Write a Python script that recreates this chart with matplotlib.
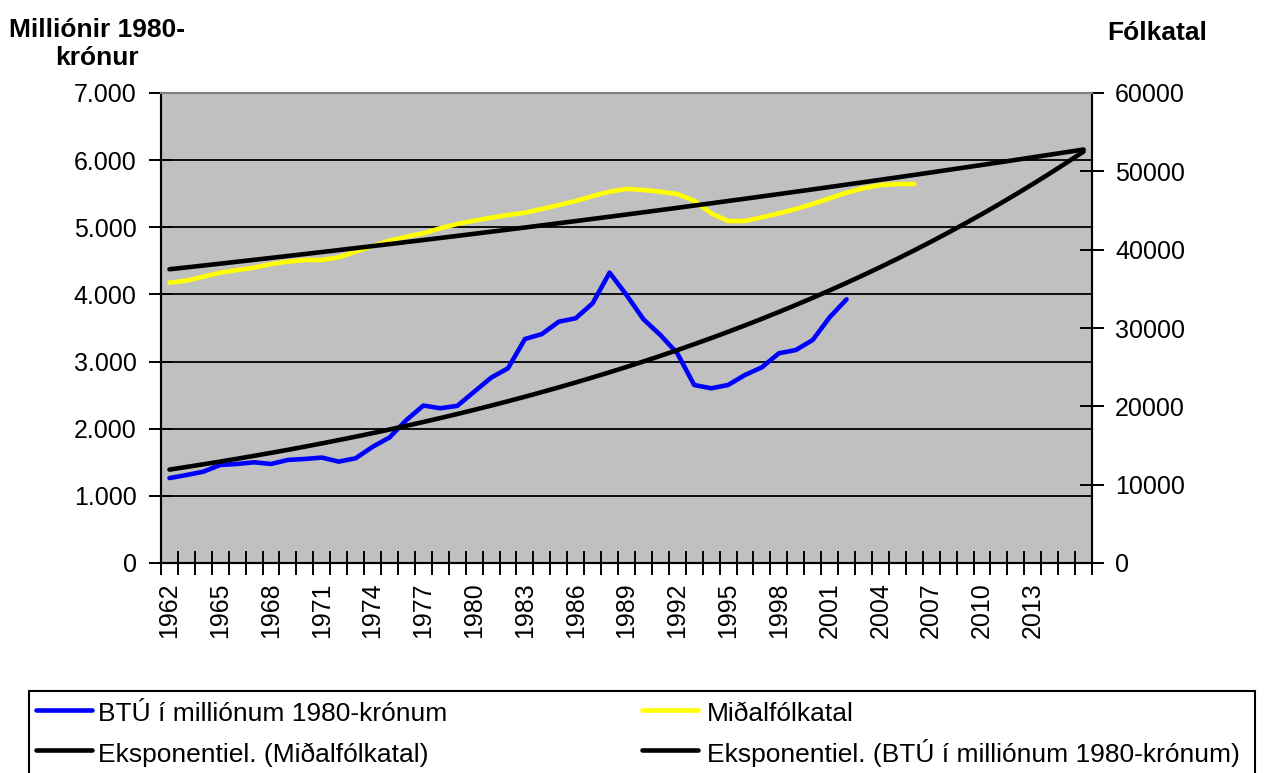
import numpy as np
import matplotlib
matplotlib.use("Agg")
import matplotlib.pyplot as plt
from matplotlib.lines import Line2D
from matplotlib.patches import Rectangle
from matplotlib.ticker import FixedLocator, FuncFormatter

plt.rcParams['font.family'] = ['Liberation Sans', 'DejaVu Sans']

years = list(range(1962, 2017))
btu = [1265, 1310, 1360, 1460, 1475, 1500, 1475, 1535, 1550, 1570,
       1510, 1560, 1730, 1870, 2130, 2345, 2305, 2340, 2550, 2760,
       2900, 3336, 3410, 3594, 3645, 3868, 4324, 3992, 3630, 3396,
       3123, 2651, 2602, 2651, 2800, 2915, 3123, 3172, 3321, 3659,
       3927]
folk = [35790, 36040, 36550, 37060, 37400, 37700, 38170, 38470, 38680, 38680,
        39020, 39740, 40470, 41150, 41660, 42090, 42730, 43280, 43700, 44080,
        44430, 44720, 45200, 45700, 46210, 46850, 47400, 47750, 47620, 47400,
        47110, 46250, 44640, 43660, 43660, 44130, 44640, 45190, 45830, 46560,
        47270, 47840, 48250, 48380, 48380]
tick_years = list(range(1962, 2014, 3))
left_ticks = [0, 1000, 2000, 3000, 4000, 5000, 6000, 7000]
right_ticks = [0, 10000, 20000, 30000, 40000, 50000, 60000]

lbl_btu = "BTÚ í milliónum 1980-krónum"
lbl_folk = "Miðalfólkatal"
lbl_exp_folk = "Eksponentiel. (Miðalfólkatal)"
lbl_exp_btu = "Eksponentiel. (BTÚ í milliónum 1980-krónum)"

n = len(years)
idx = np.arange(n)

# exponential trendlines fitted like Excel, extended to the last category
def exp_trend(vals):
    x = np.arange(len(vals))
    b, a = np.polyfit(x, np.log(vals), 1)
    return np.exp(a + b * idx)

W, H = 1265, 773
fs = 18
lw = 3.3
fig = plt.figure(figsize=(W / 100, H / 100), dpi=100)
ax = fig.add_axes([161 / W, 1 - 563 / H, (1092 - 161) / W, (563 - 93) / H])
ax.set_facecolor('#C0C0C0')
ax2 = ax.twinx()

for v in left_ticks[1:-1]:
    ax.axhline(v, color='black', lw=1.3, zorder=1)

l_btu, = ax.plot(idx[:len(btu)], btu, color='#0000FF', lw=lw, zorder=3,
                 solid_joinstyle='round', solid_capstyle='round')
l_exp_btu, = ax.plot(idx, exp_trend(btu), color='black', lw=lw, zorder=4,
                     solid_capstyle='round')
l_folk, = ax2.plot(idx[:len(folk)], folk, color='#FFFF00', lw=lw, zorder=3,
                   solid_joinstyle='round', solid_capstyle='round')
l_exp_folk, = ax2.plot(idx, exp_trend(folk), color='black', lw=lw, zorder=4,
                       solid_capstyle='round')

ax.set_xlim(-0.5, n - 0.5)
ax.set_ylim(0, 7000)
ax2.set_ylim(0, 60000)

ax.set_yticks(left_ticks)
ax.yaxis.set_major_formatter(FuncFormatter(lambda v, p: "{:,.0f}".format(v).replace(",", ".")))
ax2.set_yticks(right_ticks)
ax2.set_yticklabels([str(v) for v in right_ticks])

ax.xaxis.set_major_locator(FixedLocator(np.arange(n + 1) - 0.5))
ax.xaxis.set_major_formatter(FuncFormatter(lambda v, p: ""))
ax.xaxis.set_minor_locator(FixedLocator([years.index(y) for y in tick_years]))
ax.set_xticklabels([str(y) for y in tick_years], minor=True, rotation=90)

ax.tick_params(axis='x', which='major', direction='inout', length=17, width=1.4)
ax.tick_params(axis='x', which='minor', length=0, pad=14, labelsize=fs)
ax.tick_params(axis='y', direction='inout', length=17, width=1.4, pad=9, labelsize=fs)
ax2.tick_params(axis='y', direction='inout', length=17, width=1.4, pad=8, labelsize=fs)

for a in (ax, ax2):
    for s in ('left', 'right', 'bottom'):
        a.spines[s].set_linewidth(1.5)
        a.spines[s].set_color('black')
    a.spines['top'].set_color('#808080')
    a.spines['top'].set_linewidth(1.5)

fig.text(97 / W, 1 - 30 / H, "Milliónir 1980-", ha='center', va='center',
         fontsize=19, fontweight='bold')
fig.text(97 / W, 1 - 58 / H, "krónur", ha='center', va='center',
         fontsize=19, fontweight='bold')
fig.text(1157 / W, 1 - 33 / H, "Fólkatal", ha='center', va='center',
         fontsize=19, fontweight='bold')

# legend box, laid out by hand (frame runs past the bottom edge)
fig.add_artist(Rectangle((29 / W, -0.05), (1255 - 29) / W, 0.05 + 1 - 691 / H,
                         transform=fig.transFigure, facecolor='white',
                         edgecolor='black', lw=1.5, zorder=5))
entries = [(l_btu, lbl_btu, 36, 710, 721), (l_exp_folk, lbl_exp_folk, 36, 750, 762),
           (l_folk, lbl_folk, 642, 710, 721), (l_exp_btu, lbl_exp_btu, 642, 750, 762)]
for line, label, x0, yl, yb in entries:
    fig.add_artist(Line2D([x0 / W, (x0 + 56) / W], [1 - yl / H, 1 - yl / H],
                          transform=fig.transFigure, color=line.get_color(),
                          lw=lw, solid_capstyle='round', zorder=6))
    fig.text((x0 + 62 if x0 < 100 else x0 + 65) / W, 1 - yb / H, label,
             ha='left', va='baseline', fontsize=19, zorder=6)

fig.savefig('out.png', dpi=100)
